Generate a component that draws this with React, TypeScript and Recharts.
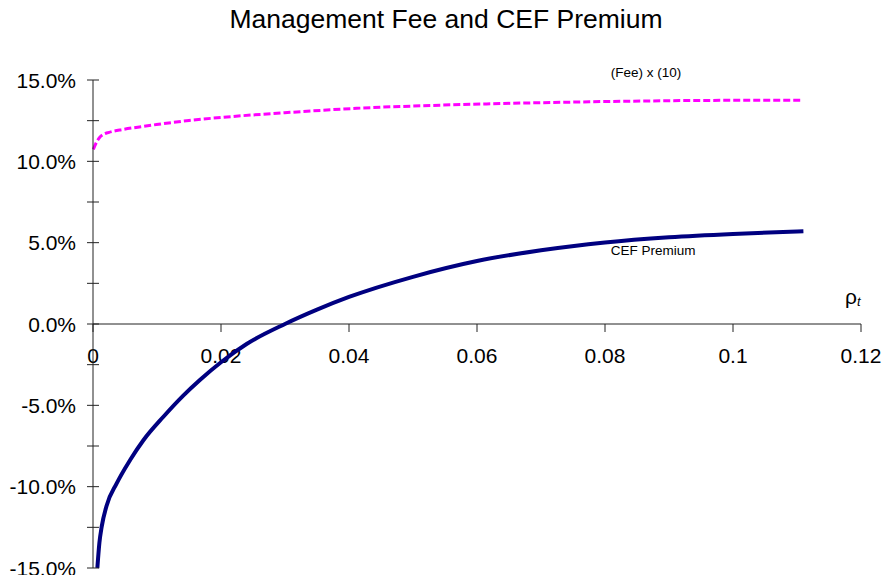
import React from 'react';
import { LineChart, Line, XAxis, YAxis, ReferenceDot } from 'recharts';

const feeRho = [0.00005, 0.0006, 0.001, 0.0016, 0.0025, 0.0047, 0.0075, 0.0099, 0.015, 0.0204, 0.0308, 0.0412, 0.0516, 0.0615, 0.0761, 0.0943, 0.1105];
const feeTimes10 = [0.1074, 0.1121, 0.1145, 0.1165, 0.1178, 0.1196, 0.1213, 0.1226, 0.1251, 0.1271, 0.1301, 0.1326, 0.1342, 0.1353, 0.1365, 0.1374, 0.1376];

const premRho = [0.00068, 0.001, 0.00136, 0.0021, 0.0037, 0.0058, 0.0079, 0.011, 0.0141, 0.0167, 0.02, 0.024, 0.03, 0.035, 0.04, 0.05, 0.06, 0.07, 0.08, 0.09, 0.1, 0.111];
const premium = [-0.15, -0.1345, -0.1246, -0.112, -0.098, -0.0836, -0.0713, -0.057, -0.044, -0.0344, -0.0235, -0.0123, 0.0, 0.0088, 0.0166, 0.029, 0.0387, 0.0453, 0.0501, 0.0533, 0.0554, 0.0570];

const xTicks = [0, 0.02, 0.04, 0.06, 0.08, 0.1, 0.12];
const yTicks = [-0.15, -0.125, -0.1, -0.075, -0.05, -0.025, 0, 0.025, 0.05, 0.075, 0.1, 0.125, 0.15];

const title = 'Management Fee and CEF Premium';
const feeLabel = '(Fee) x (10)';
const premLabel = 'CEF Premium';

const feeData = feeRho.map((r, i) => ({ rho: r, v: feeTimes10[i] }));
const premData = premRho.map((r, i) => ({ rho: r, v: premium[i] }));

const FONT = '"Liberation Sans", Arial, sans-serif';

const YTick = (props: any) => {
  const { x, y, payload } = props;
  const v = payload.value;
  const major = Math.abs(Math.round(v * 1000) % 50) === 0;
  return (
    <g>
      <line x1={x - 6} x2={x + 6} y1={y} y2={y} stroke="#222" strokeWidth={1} />
      {major && (
        <text x={x - 17} y={y} dy="0.36em" textAnchor="end" fontSize={21} fontFamily={FONT} fill="#000">
          {(v * 100).toFixed(1) + '%'}
        </text>
      )}
    </g>
  );
};

const textShape = (content: React.ReactNode, size: number) => (p: any) => (
  <text x={p.cx} y={p.cy} fontSize={size} fontFamily={FONT} fill="#000" textAnchor="start">
    {content}
  </text>
);

export default function App() {
  return (
    <div style={{ position: 'absolute', left: 0, top: 0, width: 885, height: 575, background: '#fff' }}>
      <svg width={885} height={40} style={{ position: 'absolute', left: 0, top: 0 }}>
        <text x={446} y={28} textAnchor="middle" fontSize={26.5} fontFamily={FONT} fill="#000">
          {title}
        </text>
      </svg>
      <div style={{ position: 'absolute', left: 0, top: 0 }}>
        <LineChart width={885} height={369} data={premData} margin={{ top: 0, right: 24, bottom: 0, left: 93 }}>
          <YAxis hide domain={[-0.15, 0.15]} />
          <XAxis
            dataKey="rho"
            type="number"
            domain={[0, 0.12]}
            ticks={xTicks}
            height={45}
            tickSize={8}
            tickMargin={16}
            axisLine={{ stroke: '#222' }}
            tickLine={{ stroke: '#222' }}
            tick={{ fill: '#000', fontSize: 21, fontFamily: FONT }}
            tickFormatter={(v: number) => String(v)}
            interval={0}
          />
        </LineChart>
      </div>
      <div style={{ position: 'absolute', left: 0, top: 0 }}>
        <LineChart width={885} height={575} margin={{ top: 80, right: 24, bottom: 7, left: 0 }}>
          <XAxis dataKey="rho" type="number" domain={[0, 0.12]} hide allowDuplicatedCategory={false} />
          <YAxis
            width={93}
            domain={[-0.15, 0.15]}
            ticks={yTicks}
            tickSize={0}
            tickMargin={0}
            tickLine={false}
            axisLine={{ stroke: '#222' }}
            tick={<YTick />}
            interval={0}
          />
          <Line
            data={feeData}
            dataKey="v"
            type="monotone"
            stroke="#FF00FF"
            strokeWidth={3}
            strokeDasharray="7 3"
            dot={false}
            isAnimationActive={false}
          />
          <Line
            data={premData}
            dataKey="v"
            type="monotone"
            stroke="#000080"
            strokeWidth={4}
            dot={false}
            isAnimationActive={false}
          />
          <ReferenceDot x={0.0809} y={0.1518} r={0} ifOverflow="visible" shape={textShape(feeLabel, 13.5)} />
          <ReferenceDot x={0.0809} y={0.0424} r={0} ifOverflow="visible" shape={textShape(premLabel, 13.5)} />
          <ReferenceDot
            x={0.1175}
            y={0.0123}
            r={0}
            ifOverflow="visible"
            shape={(p: any) => (
              <text x={p.cx} y={p.cy} fontSize={21} fontFamily={FONT} fill="#000">
                ρ
                <tspan fontSize={13} fontStyle="italic" dy={2}>t</tspan>
              </text>
            )}
          />
        </LineChart>
      </div>
    </div>
  );
}
